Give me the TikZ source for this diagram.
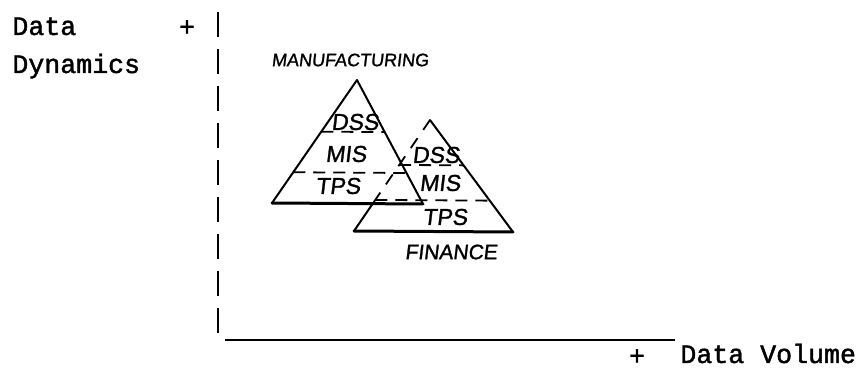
\documentclass[tikz,border=0pt]{standalone}
\usepackage{fontspec}
\usepackage{tikz}
\usetikzlibrary{calc}
\newfontfamily\typefont[FakeBold=1.6]{Liberation Mono}
\newfontfamily\handfont[FakeBold=1.2,FakeSlant=0.12]{Liberation Sans}
\tikzset{
  axislbl/.style={font=\typefont\fontsize{13.3}{16}\selectfont,inner sep=0pt},
  hand/.style={font=\handfont\fontsize{11.5}{13}\selectfont,inner sep=0pt},
  tag/.style={font=\handfont\fontsize{9}{11}\selectfont,inner sep=0pt},
  axisline/.style={line width=1.1pt},
  rim/.style={line width=1pt,line join=round,line cap=round},
  foot/.style={line width=1.5pt,line cap=round},
  tier/.style={line width=0.9pt,dash pattern=on 6pt off 4pt},
  hidedge/.style={line width=0.9pt,dash pattern=on 6pt off 5pt},
}

\begin{document}
\begin{tikzpicture}[x=0.5pt,y=-0.5pt]
\useasboundingbox (0,0) rectangle (858,369);
\node[axislbl,anchor=base west] (dyn1) at (12,35) {Data};
\node[axislbl,anchor=base west] (dyn2) at (12,73) {Dynamics};
\node[axislbl] (dynplus) at (187,28) {+};
\node[axislbl] (volplus) at (637,357) {+};
\node[axislbl,anchor=base west] (vol) at (680,363) {Data Volume};
\coordinate (ytop) at (218,12);
\coordinate (ybot) at (218,333);
\coordinate (xbeg) at (225,340);
\coordinate (xend) at (675,340);
\draw[axisline,dash pattern=on 12.5pt off 6pt] (ytop) -- (ybot);
\draw[axisline] (xbeg) -- (xend);

\coordinate (mA) at (357,80);
\coordinate (mL) at (272,203);
\coordinate (mR) at (423,204);
\draw[rim] (mL) -- (mA) -- (mR);
\draw[foot] (mL) -- (mR);
\draw[tier] ($(mA)!0.42!(mL)$) -- ($(mA)!0.42!(mR)$);
\draw[tier] ($(mA)!0.75!(mL)$) -- ($(mA)!0.75!(mR)$);

\coordinate (fA) at (430,120);
\coordinate (fL) at (354,231);
\coordinate (fR) at (513,232);
\coordinate (fX) at ($(fA)!0.752!(fL)$);
\draw[hidedge] (fA) -- (fX);
\draw[rim] (fX) -- (fL);
\draw[rim] (fA) -- (fR);
\draw[foot] (fL) -- (fR);
\draw[tier] ($(fA)!0.405!(fL)$) -- ($(fA)!0.405!(fR)$);
\draw[tier] ($(fA)!0.72!(fL)$) -- ($(fA)!0.72!(fR)$);

\node[tag] (mname) at (350,60) {MANUFACTURING};
\node[hand] (mdss) at (355,122) {DSS};
\node[hand] (mmis) at (346,154) {MIS};
\node[hand] (mtps) at (338,186) {TPS};
\node[hand] (fdss) at (436,155) {DSS};
\node[hand] (fmis) at (440,183) {MIS};
\node[hand] (ftps) at (445,217) {TPS};
\node[tag,font=\handfont\fontsize{10.5}{12}\selectfont] (fname) at (451,252) {FINANCE};
\end{tikzpicture}
\end{document}
